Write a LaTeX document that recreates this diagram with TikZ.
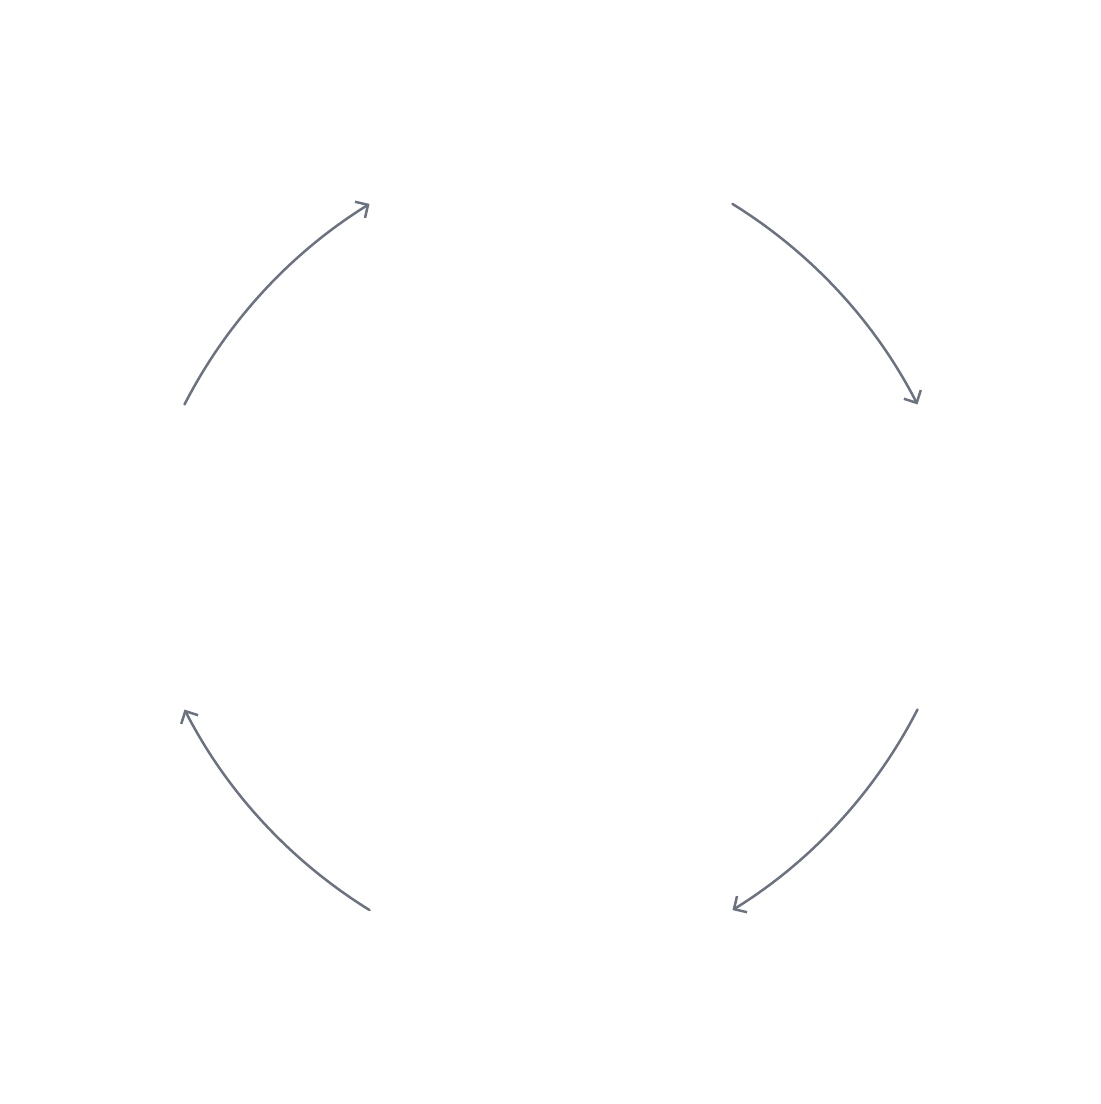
\documentclass[tikz,border=0pt]{standalone}
\usetikzlibrary{arrows.meta,calc}
\definecolor{arcgray}{HTML}{6B7280}
\begin{document}
\begin{tikzpicture}[x=1pt,y=1pt,
  cyclearc/.style={draw=arcgray, line width=2.5pt, line cap=round,
    -{Straight Barb[length=9.5pt,width=19pt,line width=2.5pt]},
    bend left=15.5, looseness=0.87}]
\useasboundingbox (0,0) rectangle (1101,1104);
\coordinate (c) at (551,547);
\def\R{397}
\coordinate (s1) at ($(c)+(157.4:\R)$);
\coordinate (e1) at ($(c)+(117.2:\R)$);
\coordinate (s2) at ($(c)+(62.8:\R)$);
\coordinate (e2) at ($(c)+(22.6:\R)$);
\coordinate (s3) at ($(c)+(-22.6:\R)$);
\coordinate (e3) at ($(c)+(-62.8:\R)$);
\coordinate (s4) at ($(c)+(-117.2:\R)$);
\coordinate (e4) at ($(c)+(-157.4:\R)$);
\draw[cyclearc] (s1) to (e1);
\draw[cyclearc] (s2) to (e2);
\draw[cyclearc] (s3) to (e3);
\draw[cyclearc] (s4) to (e4);
\end{tikzpicture}
\end{document}
